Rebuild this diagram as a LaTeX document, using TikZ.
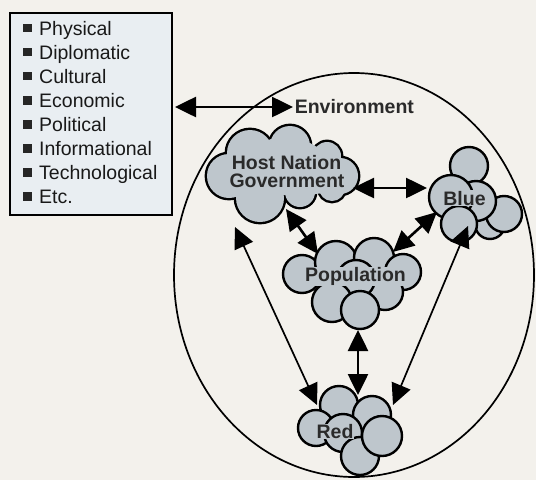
\documentclass[tikz,border=0pt]{standalone}
\usepackage{fontspec}
\setmainfont{Liberation Sans}
\usetikzlibrary{arrows.meta,shapes.geometric}
\definecolor{bg}{RGB}{243,241,236}
\definecolor{boxfill}{RGB}{233,238,242}
\definecolor{cloudfill}{RGB}{190,198,204}
\definecolor{txt}{RGB}{42,42,42}
\begin{document}
\begin{tikzpicture}[x=1pt,y=-1pt,
  puff/.style={fill=cloudfill,draw=black,line width=2.4pt},
  lbl/.style={font=\fontsize{19.5}{17}\selectfont\bfseries, text=txt, inner sep=0.6pt, fill=cloudfill, anchor=base},
  item/.style={font=\fontsize{19.5}{20}\selectfont, anchor=base west, inner sep=0, text=black!90},
  bul/.style={fill=black!85, minimum size=8.5pt, inner sep=0},
  dbl/.style={{Triangle[length=21pt,width=20pt]}-{Triangle[length=21pt,width=20pt]}, line width=2.6pt},
  dblthin/.style={{Triangle[length=21pt,width=20pt]}-{Triangle[length=21pt,width=20pt]}, line width=1.7pt}
]
\fill[bg] (0,0) rectangle (536,480);
\path[use as bounding box] (0,0) rectangle (536,480);

% environment ellipse
\node[ellipse, draw, line width=1.7pt, minimum width=360pt, minimum height=404pt, inner sep=0] (env) at (354,275) {};

% list box
\node[draw, line width=2.5pt, fill=boxfill, minimum width=162pt, minimum height=202pt, inner sep=0] (box) at (91,114) {};
\foreach \t [count=\i from 0] in {Physical,Diplomatic,Cultural,Economic,Political,Informational,Technological,Etc.}{
  \node[bul] (b\i) at (27.5,{28+24.1*\i}) {};
  \node[item] (t\i) at (39,{35+24.1*\i}) {\t};
}

% Host Nation Government cloud (union of puffs: outline layer, then fill layer)
\def\hngpuffs{229/176/22, 250/153/23, 290/146/20, 327/156/14, 340/176/18, 332/188/13, 300/192/15, 260/198/24}
\foreach \x/\y/\r in \hngpuffs
  \draw[black, line width=4.8pt] (\x,\y) circle[radius=\r];
\foreach \x/\y/\r in \hngpuffs
  \fill[cloudfill] (\x,\y) circle[radius=\r];
\fill[cloudfill] (232,156) -- (271,139) -- (310,143) -- (338,159) -- (344,190) -- (316,194) -- (285,195) -- (234,195) -- cycle;
\node[lbl, fill=none, inner sep=0] (hng1) at (286.5,169.3) {Host Nation};
\node[lbl, fill=none, inner sep=0] (hng2) at (287,187.2) {Government};

% Blue cluster
\foreach \x/\y/\r in {469/166/19, 490/224/15, 504/214/18, 476/201/20, 451/197/22, 459/224/18}
  \draw[puff] (\x,\y) circle[radius=\r];
\node[lbl] (blue) at (464.5,205) {Blue};

% Population cluster
\foreach \x/\y/\r in {302/274/19, 336/262/21, 374/258/20, 403/272/18, 385/292/18, 356/279/19, 332/302/20, 360/310/19}
  \draw[puff] (\x,\y) circle[radius=\r];
\node[lbl] (pop) at (355.5,281.7) {Population};

% Red cluster
\foreach \x/\y/\r in {339/405/19, 372/415/19, 316/428/18, 343/433/19, 360/456/19, 382/436/20}
  \draw[puff] (\x,\y) circle[radius=\r];
\node[lbl] (red) at (335,438.3) {Red};

% Environment label
\node[lbl, fill=none, anchor=base west] (envl) at (294,113) {Environment};

% connector end points
\coordinate (boxE) at (175,107);
\coordinate (envW) at (293,107);
\coordinate (hngE) at (353,188);
\coordinate (blueW) at (427,188);
\coordinate (hngS) at (286,209);
\coordinate (popNW) at (318,254);
\coordinate (blueSW) at (437,212);
\coordinate (popNE) at (393,252);
\coordinate (hngSW) at (235,227);
\coordinate (redNW) at (317,405);
\coordinate (blueS) at (468,226);
\coordinate (redNE) at (393,405);
\coordinate (popS) at (358,330);
\coordinate (redN) at (358,395);

\draw[dbl] (boxE) -- (envW);
\draw[dbl] (hngE) -- (blueW);
\draw[dbl] (hngS) -- (popNW);
\draw[dbl] (blueSW) -- (popNE);
\draw[dbl] (popS) -- (redN);
\draw[dblthin] (hngSW) -- (redNW);
\draw[dblthin] (blueS) -- (redNE);
\end{tikzpicture}
\end{document}
